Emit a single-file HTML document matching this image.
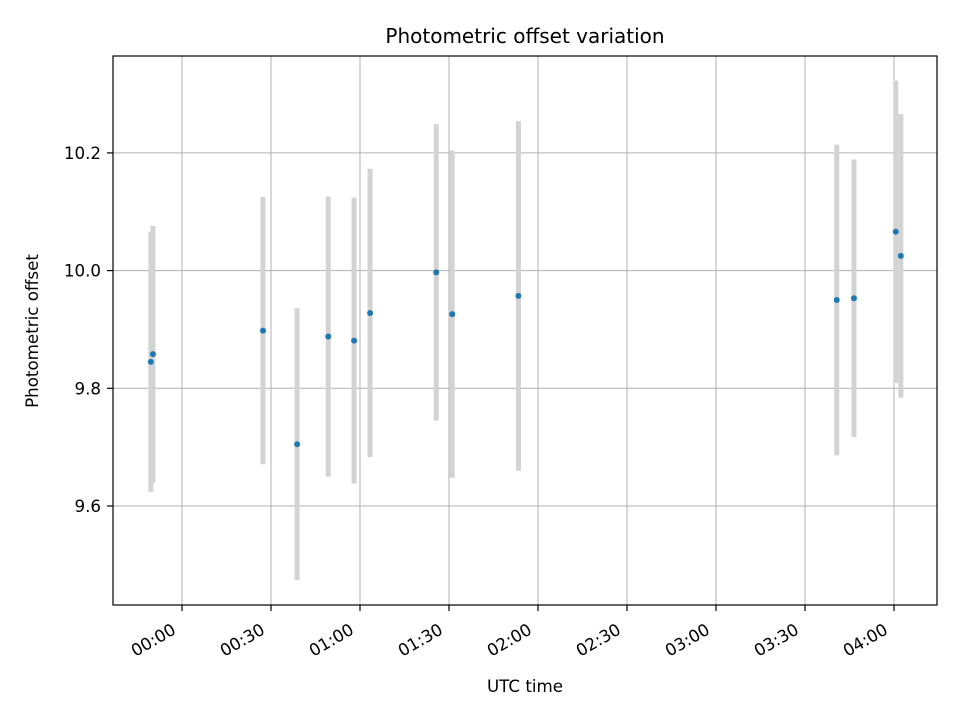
<!DOCTYPE html>
<html><head><meta charset="utf-8"><style>
body{margin:0;background:#fff}
svg text{font-family:"DejaVu Sans","Liberation Sans",sans-serif;fill:#000}
</style></head><body>
<svg id="chart" width="960" height="720" xmlns="http://www.w3.org/2000/svg">
<rect width="960" height="720" fill="#fff"/>
<g id="grid"></g><g id="bars"></g><g id="pts"></g><g id="axes"></g>
<text x="525" y="43" font-size="20" text-anchor="middle">Photometric offset variation</text>
<text x="525" y="692" font-size="16.7" text-anchor="middle">UTC time</text>
<text transform="translate(38,331) rotate(-90)" font-size="16.7" text-anchor="middle">Photometric offset</text>
</svg>
<script>
const minutes=[-10.5,-9.8,27.3,38.8,49.3,58,63.4,85.7,91.1,113.4,220.7,226.5,240.6,242.3];
const offsets=[9.845,9.858,9.898,9.705,9.888,9.881,9.928,9.997,9.926,9.957,9.950,9.953,10.066,10.025];
const errors=[0.221,0.218,0.227,0.231,0.238,0.243,0.245,0.252,0.278,0.297,0.264,0.236,0.257,0.241];
const yTicks=[9.6,9.8,10.0,10.2];
const yTickLabels=["9.6","9.8","10.0","10.2"];
const xTicks=[0,30,60,90,120,150,180,210,240];
const xTickLabels=["00:00","00:30","01:00","01:30","02:00","02:30","03:00","03:30","04:00"];
const L=113,R=937,T=56,B=605;
const X=m=>182+m*(89/30);
const Y=v=>506-(v-9.6)*(117.7/0.2);
const NS="http://www.w3.org/2000/svg";
function mk(tag,attrs,parent){const e=document.createElementNS(NS,tag);for(const k in attrs)e.setAttribute(k,attrs[k]);document.getElementById(parent).appendChild(e);return e;}
yTicks.forEach((v,i)=>{
 const g=mk('line',{x1:L,x2:R,y1:Y(v),y2:Y(v),stroke:'#b0b0b0','stroke-width':1},'grid');
 
 
 mk('line',{x1:L-6,x2:L,y1:Y(v),y2:Y(v),stroke:'#000','stroke-width':1.2},'axes');
 const t=mk('text',{x:L-12,y:Y(v)+6,'font-size':16.7,'text-anchor':'end'},'axes');
 t.textContent=yTickLabels[i];
 
 
});
xTicks.forEach((m,i)=>{
 const g=mk('line',{x1:X(m),x2:X(m),y1:T,y2:B,stroke:'#b0b0b0','stroke-width':1},'grid');
 
 
 mk('line',{x1:X(m),x2:X(m),y1:B,y2:B+6,stroke:'#000','stroke-width':1.2},'axes');
 const t=mk('text',{transform:`translate(${X(m)-5},${B+28}) rotate(-30)`,'font-size':16.7,'text-anchor':'end'},'axes');
 t.textContent=xTickLabels[i];
 
 
});
minutes.forEach((m,i)=>{
 const b=mk('line',{x1:X(m),x2:X(m),y1:Y(offsets[i]+errors[i]),y2:Y(offsets[i]-errors[i]),stroke:'#d3d3d3','stroke-width':5},'bars');
 
 
 const c=mk('circle',{cx:X(m),cy:Y(offsets[i]),r:3,fill:'#1f77b4'},'pts');
 
 
});
const f=mk('rect',{x:L,y:T,width:R-L,height:B-T,fill:'none',stroke:'#000','stroke-width':1.2},'axes');


</script>
</body></html>
